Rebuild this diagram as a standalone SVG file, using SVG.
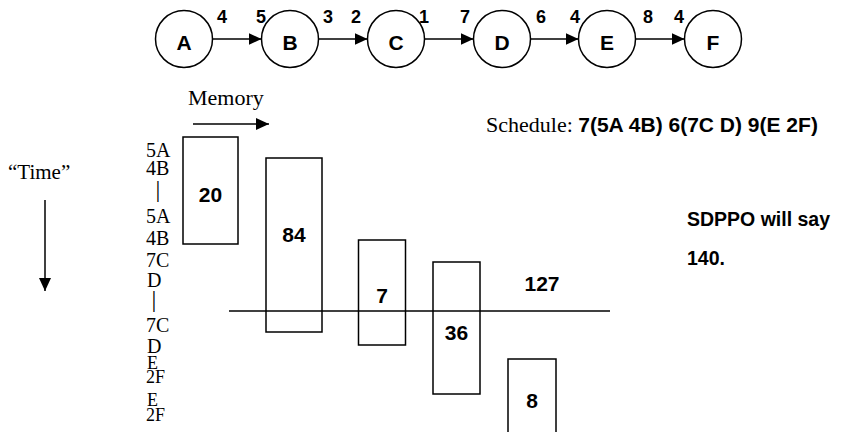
<svg xmlns="http://www.w3.org/2000/svg" width="841" height="432" viewBox="0 0 841 432">
<style>
.node circle{fill:#fff;stroke:#000;stroke-width:1.5}
.nl{font-family:"Liberation Sans",Arial,sans-serif;font-weight:bold;font-size:21px;text-anchor:middle;fill:#000}
.el{font-family:"Liberation Sans",Arial,sans-serif;font-weight:bold;font-size:18px;fill:#000}
.ser{font-family:"Liberation Serif","Times New Roman",serif;font-size:20px;fill:#000}
.sm{font-size:18px}
.bold{font-family:"Liberation Sans",Arial,sans-serif;font-weight:bold;font-size:20px;fill:#000}
.box rect{fill:none;stroke:#000;stroke-width:1.5}
.bl{font-family:"Liberation Sans",Arial,sans-serif;font-weight:bold;font-size:21px;text-anchor:middle;fill:#000}
.conn line{stroke:#000;stroke-width:1.5}
.bar{font-family:"Liberation Serif","Times New Roman",serif;font-size:24px;text-anchor:middle;fill:#000}
</style>
<defs>
<marker id="ah" markerWidth="13" markerHeight="12" viewBox="0 0 13 12" refX="13" refY="6" orient="auto" markerUnits="userSpaceOnUse"><path d="M0,0 L13,6 L0,12 z" fill="#000"/></marker>
</defs>

<g id="connectors" class="conn">
<line x1="212.5" y1="39" x2="261.5" y2="39" marker-end="url(#ah)"/>
<line x1="318.5" y1="39" x2="367.5" y2="39" marker-end="url(#ah)"/>
<line x1="424.5" y1="39" x2="473.5" y2="39" marker-end="url(#ah)"/>
<line x1="530.5" y1="39" x2="578.5" y2="39" marker-end="url(#ah)"/>
<line x1="635.5" y1="39" x2="684.5" y2="39" marker-end="url(#ah)"/>
</g>

<g id="edge-labels">
<text class="el" x="217" y="23">4</text>
<text class="el" x="256" y="23">5</text>
<text class="el" x="323" y="23">3</text>
<text class="el" x="351" y="23">2</text>
<text class="el" x="419" y="23">1</text>
<text class="el" x="460" y="23">7</text>
<text class="el" x="536" y="23">6</text>
<text class="el" x="570" y="23">4</text>
<text class="el" x="643" y="23">8</text>
<text class="el" x="674" y="23">4</text>
</g>

<g id="node-A" class="node"><circle cx="184" cy="39" r="28.5"/><text class="nl" x="184" y="50">A</text></g>
<g id="node-B" class="node"><circle cx="290" cy="39" r="28.5"/><text class="nl" x="290" y="50">B</text></g>
<g id="node-C" class="node"><circle cx="396" cy="39" r="28.5"/><text class="nl" x="396" y="50">C</text></g>
<g id="node-D" class="node"><circle cx="502" cy="39" r="28.5"/><text class="nl" x="502" y="50">D</text></g>
<g id="node-E" class="node"><circle cx="607" cy="39" r="28.5"/><text class="nl" x="607" y="50">E</text></g>
<g id="node-F" class="node"><circle cx="713" cy="39" r="28.5"/><text class="nl" x="713" y="50">F</text></g>

<g id="axes" class="conn">
<text class="ser" x="188" y="105" style="font-size:22px">Memory</text>
<line x1="193" y1="124" x2="269" y2="124" marker-end="url(#ah)"/>
<text class="ser" x="8" y="179" style="font-size:21px">“Time”</text>
<line x1="45" y1="200" x2="45" y2="291" marker-end="url(#ah)"/>
</g>

<g id="schedule">
<text x="486" y="132"><tspan class="ser" style="font-size:22px">Schedule: </tspan><tspan class="bold" style="font-size:21px">7(5A 4B) 6(7C D) 9(E 2F)</tspan></text>
<text class="bold" x="687" y="226" style="font-size:19.5px">SDPPO will say</text>
<text class="bold" x="687" y="265" style="font-size:19.5px">140.</text>
</g>

<g id="time-labels">
<text class="ser" x="146" y="157">5A</text>
<text class="ser" x="146" y="175">4B</text>
<text class="bar" x="158" y="197">|</text>
<text class="ser" x="146" y="223">5A</text>
<text class="ser" x="146" y="245">4B</text>
<text class="ser" x="146" y="267">7C</text>
<text class="ser" x="147" y="287">D</text>
<text class="bar" x="154" y="307">|</text>
<text class="ser" x="146" y="332">7C</text>
<text class="ser" x="147" y="353">D</text>
<text class="ser sm" x="147" y="369">E</text>
<text class="ser sm" x="146" y="383">2F</text>
<text class="ser sm" x="147" y="406">E</text>
<text class="ser sm" x="146" y="421">2F</text>
</g>

<g id="box-20" class="box"><rect x="183" y="137" width="55" height="107"/><text class="bl" x="210.5" y="202">20</text></g>
<g id="box-84" class="box"><rect x="266" y="158" width="56" height="174"/><text class="bl" x="294" y="242">84</text></g>
<g id="box-7" class="box"><rect x="358.5" y="240" width="47" height="105"/><text class="bl" x="382" y="303">7</text></g>
<g id="box-36" class="box"><rect x="433" y="262" width="47" height="132"/><text class="bl" x="456.5" y="340">36</text></g>
<g id="box-8" class="box"><rect x="508" y="359" width="48" height="80"/><text class="bl" x="532" y="408">8</text></g>

<g id="threshold" class="conn">
<line x1="229" y1="311" x2="610" y2="311"/>
<text class="bl" x="542" y="291">127</text>
</g>
</svg>
